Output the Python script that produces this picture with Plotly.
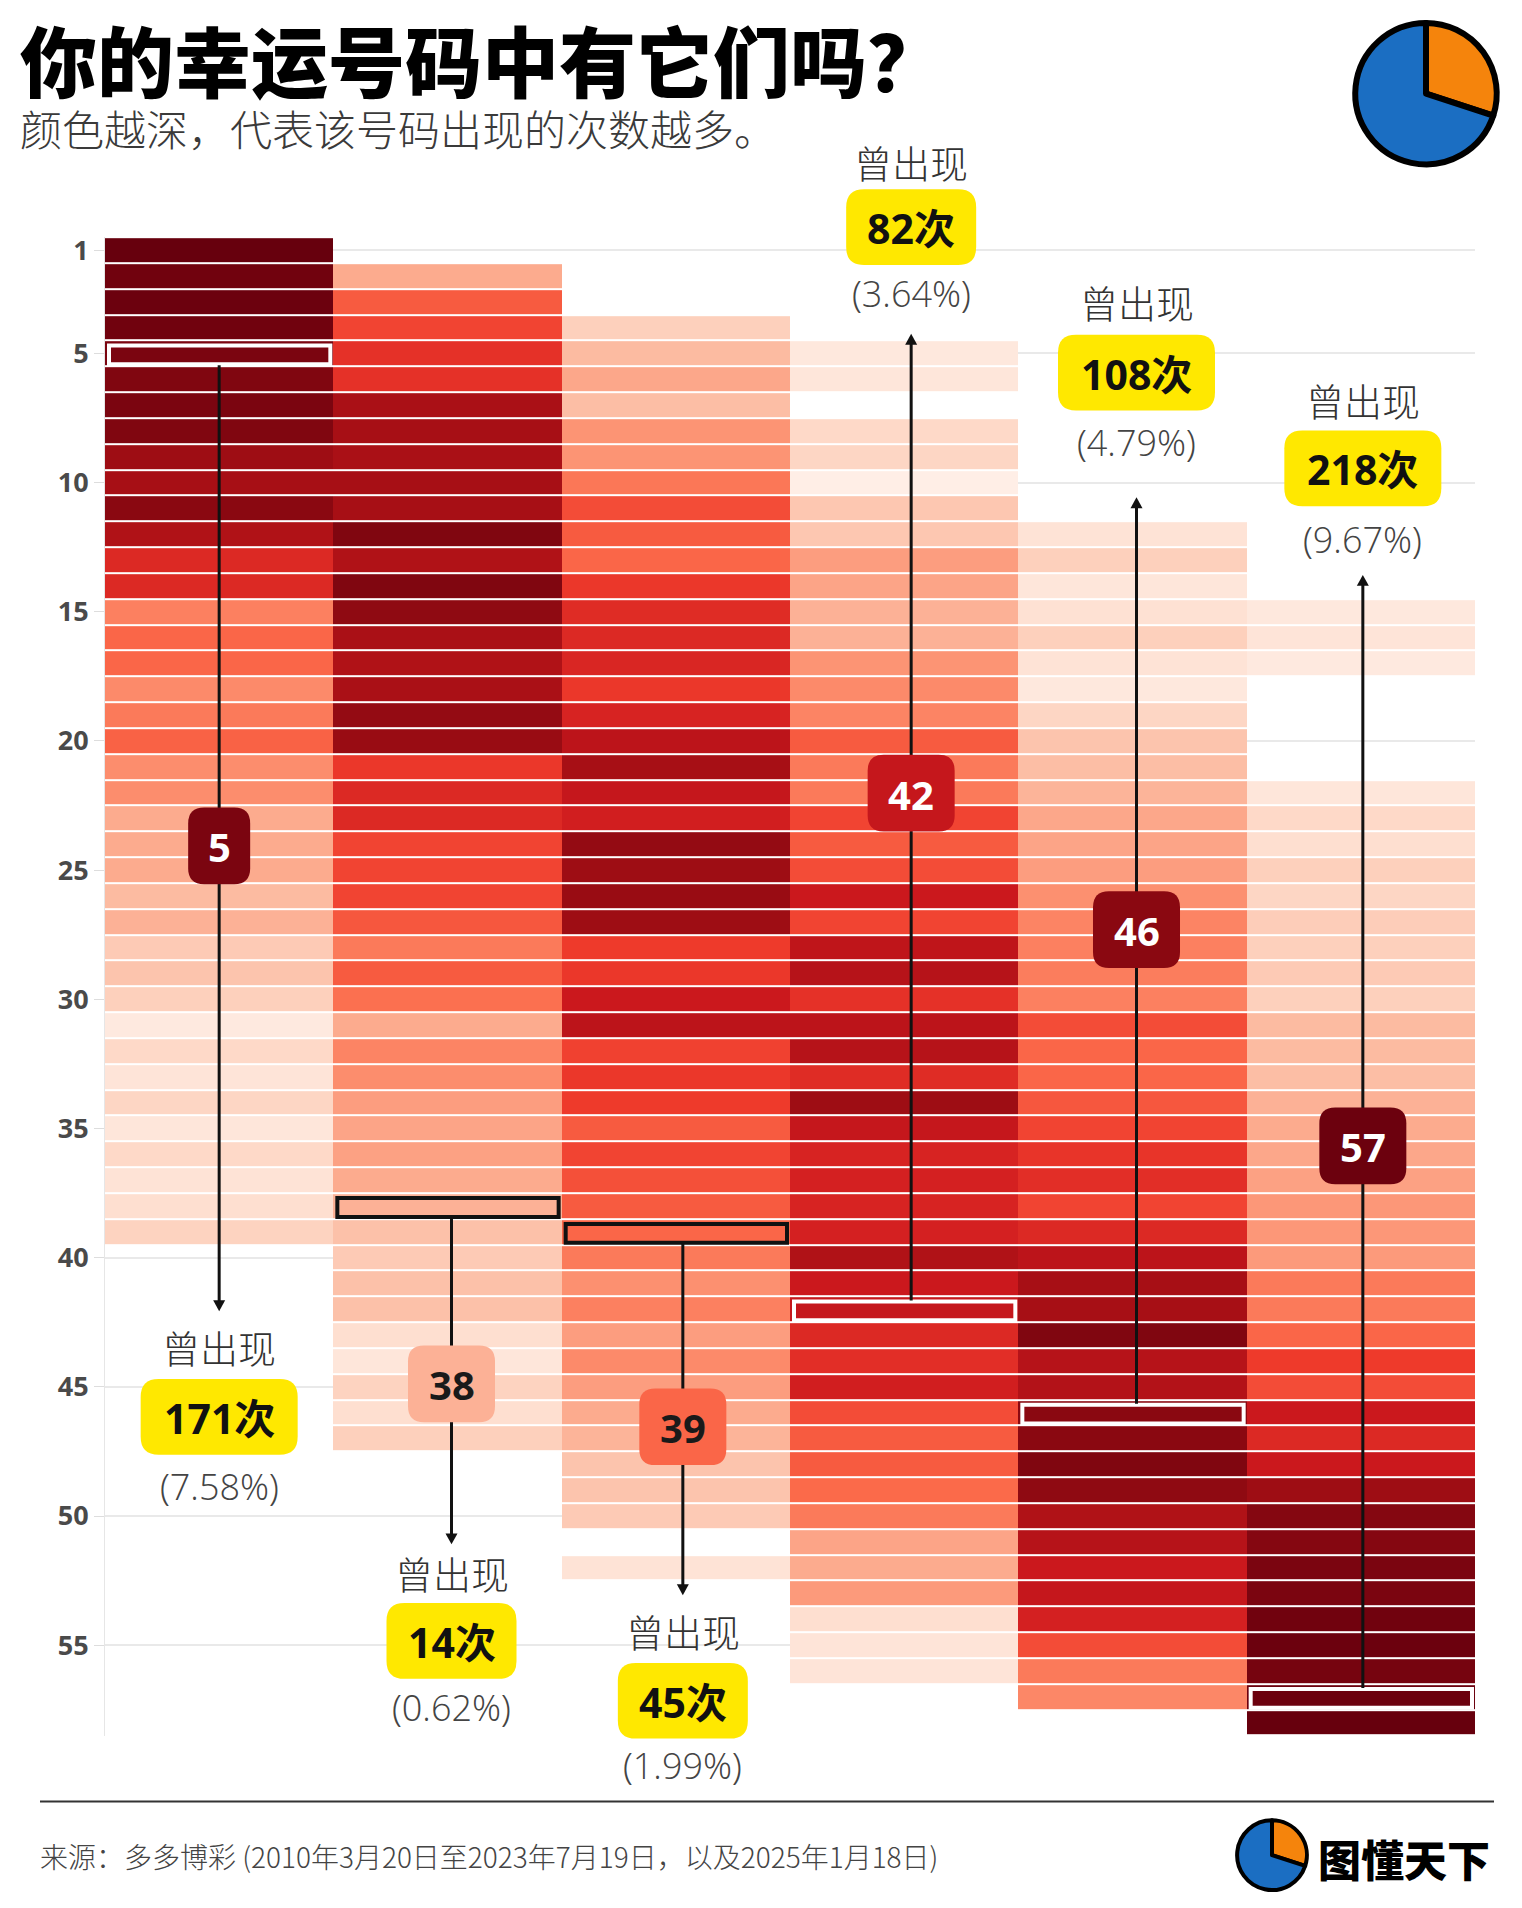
import plotly.graph_objects as go
from plotly.colors import sample_colorscale

# ---------------- data ----------------
POSITIONS = ["第1位", "第2位", "第3位", "第4位", "第5位", "第6位"]
NUMBERS = list(range(1, 59))

# colour depth (0-100) read from each cell, listed from each column's first number; None = no cell
POS1_FIRST = 1
POS1_SHADE = [100, 98, 99, 98, 96, 95, 96, 95, 89, 87, 93, 84, 69, 69, 43, 51, 51, 40, 45, 52,
              39, 39, 30, 30, 30, 25, 28, 20, 22, 18, 7, 15, 10, 16, 9, 15, 11, 13, 17]
POS2_FIRST = 2
POS2_SHADE = [30, 54, 60, 66, 66, 86, 87, 86, 87, 87, 95, 84, 95, 92, 86, 84, 86, 91, 90, 64,
              69, 69, 60, 60, 60, 55, 45, 54, 48, 30, 42, 39, 34, 32, 33, 30, 28, 23, 20, 23,
              23, 13, 9, 17, 13, 18]
POS3_FIRST = 4
POS3_SHADE = [18, 25, 31, 24, 37, 37, 46, 58, 54, 51, 64, 68, 69, 70, 64, 71, 80, 87, 77, 73,
              91, 89, 90, 89, 63, 64, 75, 80, 61, 64, 63, 54, 60, 57, 54, 51, 45, 38, 43, 34,
              40, 34, 30, 27, 22, 22, 20, None, 11]
POS4_FIRST = 5
POS4_SHADE = [8, 9, None, 15, 16, 4, 21, 21, 34, 32, 28, 28, 37, 40, 42, 54, 45, 45, 60, 54,
              58, 75, 60, 79, 82, 66, 80, 82, 68, 89, 77, 71, 72, 71, 72, 84, 75, 77, 69, 67,
              73, 58, 54, 54, 50, 45, 32, 30, 35, 13, 10, 10]
POS5_FIRST = 12
POS5_SHADE = [11, 18, 9, 12, 18, 11, 8, 16, 22, 24, 27, 31, 32, 34, 38, 42, 43, 44, 43, 58,
              51, 51, 55, 60, 65, 67, 60, 69, 80, 87, 87, 95, 82, 83, 93, 93, 95, 92, 84, 82,
              75, 77, 72, 58, 45, 41]
POS6_FIRST = 15
POS6_SHADE = [8, 10, 7, None, None, None, None, 9, 15, 13, 18, 16, 19, 18, 20, 18, 25, 25, 24, 28,
              30, 31, 33, 36, 36, 35, 45, 45, 51, 63, 58, 75, 69, 75, 89, 94, 94, 96, 96, 98,
              99, 97, 99, 100]

FIRSTS = [POS1_FIRST, POS2_FIRST, POS3_FIRST, POS4_FIRST, POS5_FIRST, POS6_FIRST]
SHADES = [POS1_SHADE, POS2_SHADE, POS3_SHADE, POS4_SHADE, POS5_SHADE, POS6_SHADE]

HIGHLIGHT_NUMBER = [5, 38, 39, 42, 46, 57]
HIGHLIGHT_COUNT = [171, 14, 45, 82, 108, 218]
HIGHLIGHT_PERCENT = ["7.58%", "0.62%", "1.99%", "3.64%", "4.79%", "9.67%"]
Y_TICKS = [1, 5, 10, 15, 20, 25, 30, 35, 40, 45, 50, 55]
LOGO_SHARES = [30, 70]

TITLE = "你的幸运号码中有它们吗？"
SUBTITLE = "颜色越深，代表该号码出现的次数越多。"
SOURCE = "来源：多多博彩 (2010年3月20日至2023年7月19日，以及2025年1月18日)"
BRAND = "图懂天下"

REDS = [[0.0, "#fff5f0"], [0.125, "#fee0d2"], [0.25, "#fcbba1"], [0.375, "#fc9272"],
        [0.5, "#fb6a4a"], [0.625, "#ef3b2c"], [0.75, "#cb181d"], [0.875, "#a50f15"],
        [1.0, "#67000d"]]

# ---------------- layout geometry (pixels) ----------------
W, H = 1522, 1908
PLOT_L, PLOT_R = 105, 1475
PLOT_T, PLOT_B = 231, 1735
COL_W = (PLOT_R - PLOT_L) / len(POSITIONS)
ROW_H = (PLOT_B - PLOT_T) / len(NUMBERS)

def px(x):
    return x / W

def py(y):
    return 1 - y / H

def col_center(i):
    return PLOT_L + (i + 0.5) * COL_W

def row_top(n):
    return PLOT_T + (n - 1) * ROW_H

def rrect(x0, y0, x1, y1, r):
    pts = [("M", x0 + r, y0), ("L", x1 - r, y0), ("Q", x1, y0, x1, y0 + r),
           ("L", x1, y1 - r), ("Q", x1, y1, x1 - r, y1), ("L", x0 + r, y1),
           ("Q", x0, y1, x0, y1 - r), ("L", x0, y0 + r), ("Q", x0, y0, x0 + r, y0)]
    s = ""
    for p in pts:
        cmd, vals = p[0], p[1:]
        coords = []
        for k in range(0, len(vals), 2):
            coords.append(f"{px(vals[k]):.5f},{py(vals[k + 1]):.5f}")
        s += cmd + " ".join(coords) + " "
    return s + "Z"

# label layout positions (pixels)
ARROW_TIP_Y = [1309, 1543, 1594, 328, 492, 570]
QC_Y = [1344, 1571, 1629, 155, 296, 394]
BOX_Y = [1415, 1640, 1700, 221, 367, 463]
PCT_Y = [1485, 1707, 1765, 288, 437, 534]
BADGE_Y = [842, 1382, 1425, 789, 926, 1143]
LINE_DX = [0, 4, 7, 7, 4, 2]

# ---------------- heatmap ----------------
z = [[None] * len(POSITIONS) for _ in NUMBERS]
for c, (first, shades) in enumerate(zip(FIRSTS, SHADES)):
    for k, v in enumerate(shades):
        z[first - 1 + k][c] = v

fig = go.Figure()
fig.add_trace(go.Heatmap(
    x=list(range(len(POSITIONS))), y=NUMBERS, z=z,
    colorscale=REDS, zmin=0, zmax=100, showscale=False,
    xgap=0, ygap=2, hoverinfo="skip",
))

# logos (pie)
fig.add_trace(go.Pie(
    values=LOGO_SHARES, sort=False, direction="clockwise", rotation=0,
    marker=dict(colors=["#f5840c", "#1b6ec2"], line=dict(color="#000000", width=6)),
    textinfo="none", hoverinfo="skip", showlegend=False,
    domain=dict(x=[px(1355), px(1497)], y=[py(158), py(16)]),
))
fig.add_trace(go.Pie(
    values=LOGO_SHARES, sort=False, direction="clockwise", rotation=0,
    marker=dict(colors=["#f5840c", "#1b6ec2"], line=dict(color="#000000", width=4)),
    textinfo="none", hoverinfo="skip", showlegend=False,
    domain=dict(x=[px(1237), px(1307)], y=[py(1890), py(1820)]),
))

shapes = []
annotations = []
NUM_FONT = "Noto Sans, Open Sans, Noto Sans CJK SC, sans-serif"
LIGHT_NUM_FONT = "Noto Sans Light, Open Sans Light, Noto Sans, Open Sans, sans-serif"
CJK_LIGHT = "Noto Sans CJK SC Light, Noto Sans CJK SC DemiLight, Noto Sans CJK SC, sans-serif"
CJK_BLACK = "Noto Sans CJK SC Black, Noto Sans CJK SC, sans-serif"

for i, num in enumerate(HIGHLIGHT_NUMBER):
    shade = SHADES[i][num - FIRSTS[i]]
    cell_color = sample_colorscale(REDS, [shade / 100])[0]
    dark = shade > 60
    edge = "#ffffff" if dark else "#111111"
    cx = col_center(i) + LINE_DX[i]
    left = PLOT_L + i * COL_W
    top, bot = row_top(num), row_top(num) + ROW_H
    # outline around the highlighted cell
    shapes.append(dict(type="rect", xref="paper", yref="paper",
                       x0=px(left + 4), x1=px(left + COL_W - 3), y0=py(top + 5), y1=py(bot - 2),
                       line=dict(color=edge, width=4), fillcolor="rgba(0,0,0,0)"))
    tip = ARROW_TIP_Y[i]
    down = tip > bot
    start = bot - 1 if down else top + 4
    end = tip - 8 if down else tip + 8
    shapes.append(dict(type="line", xref="paper", yref="paper",
                       x0=px(cx), x1=px(cx), y0=py(start), y1=py(end),
                       line=dict(color="#111111", width=3)))
    hb = tip - 11 if down else tip + 11
    shapes.append(dict(type="path", xref="paper", yref="paper",
                       path=f"M{px(cx - 6):.5f},{py(hb):.5f} L{px(cx + 6):.5f},{py(hb):.5f} L{px(cx):.5f},{py(tip):.5f} Z",
                       fillcolor="#111111", line=dict(width=0)))
    # number badge
    bw = 37 + 25 * len(str(num))
    bh = 77
    by = BADGE_Y[i]
    shapes.append(dict(type="path", xref="paper", yref="paper",
                       path=rrect(cx - bw / 2, by - bh / 2, cx + bw / 2, by + bh / 2, 16),
                       fillcolor=cell_color, line=dict(width=0)))
    annotations.append(dict(xref="paper", yref="paper", x=px(cx), y=py(by + 1), text=f"<b>{num}</b>",
                            showarrow=False, xanchor="center", yanchor="middle",
                            font=dict(family=NUM_FONT, size=40, color="#ffffff" if dark else "#1a1a1a")))
    # yellow count box
    cnt = HIGHLIGHT_COUNT[i]
    yw = 76 + 27 * len(str(cnt))
    yh = 76
    yy = BOX_Y[i]
    shapes.append(dict(type="path", xref="paper", yref="paper",
                       path=rrect(cx - yw / 2, yy - yh / 2, cx + yw / 2, yy + yh / 2, 18),
                       fillcolor="#ffe800", line=dict(width=0)))
    annotations.append(dict(xref="paper", yref="paper", x=px(cx), y=py(yy + 1), text=f"<b>{cnt}次</b>",
                            showarrow=False, xanchor="center", yanchor="middle",
                            font=dict(family=NUM_FONT, size=41, color="#111111")))
    annotations.append(dict(xref="paper", yref="paper", x=px(cx), y=py(QC_Y[i]), text="曾出现",
                            showarrow=False, xanchor="center", yanchor="middle",
                            font=dict(family=CJK_LIGHT, size=38, color="#333333", weight=300)))
    annotations.append(dict(xref="paper", yref="paper", x=px(cx), y=py(PCT_Y[i]),
                            text=f"({HIGHLIGHT_PERCENT[i]})",
                            showarrow=False, xanchor="center", yanchor="middle",
                            font=dict(family=LIGHT_NUM_FONT, size=36, color="#444444", weight=300)))

# footer rule
shapes.append(dict(type="line", xref="paper", yref="paper", x0=px(40), x1=px(1494),
                   y0=py(1801), y1=py(1801), line=dict(color="#333333", width=2)))

annotations += [
    dict(xref="paper", yref="paper", x=px(19), y=py(52), text=TITLE, showarrow=False,
         xanchor="left", yanchor="middle", borderpad=0,
         font=dict(family=CJK_BLACK, size=77, color="#000000", weight=900)),
    dict(xref="paper", yref="paper", x=px(19), y=py(121), text=SUBTITLE, showarrow=False,
         xanchor="left", yanchor="middle", borderpad=0,
         font=dict(family=CJK_LIGHT, size=42, color="#3a3a3a", weight=300)),
    dict(xref="paper", yref="paper", x=px(38), y=py(1856), text=SOURCE, showarrow=False,
         xanchor="left", yanchor="middle",
         font=dict(family=CJK_LIGHT, size=28, color="#444444", weight=300)),
    dict(xref="paper", yref="paper", x=px(1316), y=py(1858), text=BRAND, showarrow=False,
         xanchor="left", yanchor="middle",
         font=dict(family=CJK_BLACK, size=43, color="#000000", weight=900)),
]

fig.update_layout(
    width=W, height=H, margin=dict(l=0, r=0, t=0, b=0),
    paper_bgcolor="#ffffff", plot_bgcolor="#ffffff",
    showlegend=False,
    xaxis=dict(domain=[px(PLOT_L), px(PLOT_R)], range=[-0.5, len(POSITIONS) - 0.5],
               showticklabels=False, showgrid=False, zeroline=False, showline=False, fixedrange=True),
    yaxis=dict(domain=[py(PLOT_B), py(PLOT_T)], range=[len(NUMBERS) + 0.5, 0.5], autorange=False,
               tickmode="array", tickvals=Y_TICKS, ticktext=[str(t) for t in Y_TICKS],
               tickfont=dict(family=NUM_FONT, size=27, color="#4a4a4a", weight=700),
               ticks="outside", ticklen=10, tickcolor="#dddddd", tickwidth=1,
               showgrid=True, gridcolor="#e9e9e9", gridwidth=1.5,
               showline=True, linecolor="#e6e6e6", linewidth=1, zeroline=False, fixedrange=True),
    shapes=shapes, annotations=annotations,
)

fig.write_html("out.html")
